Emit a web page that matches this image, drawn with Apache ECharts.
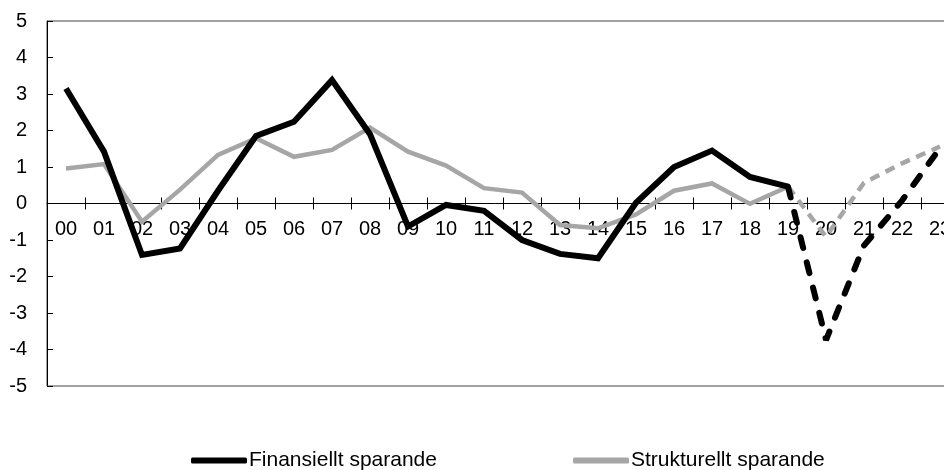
<!DOCTYPE html>
<html>
<head>
<meta charset="utf-8">
<script src="https://cdn.jsdelivr.net/npm/echarts@6/dist/echarts.min.js"></script>
<style>
  html, body { margin: 0; padding: 0; background: #fff; }
  #chart { width: 944px; height: 470px; }
</style>
</head>
<body>
<div id="chart"></div>
<script>
// år (x-axelns etiketter)
const years = ['00', '01', '02', '03', '04', '05', '06', '07', '08', '09', '10', '11',
  '12', '13', '14', '15', '16', '17', '18', '19', '20', '21', '22', '23']

// procent av BNP
const finansiellt = [3.15, 1.42, -1.41, -1.23, 0.35, 1.85, 2.24, 3.38, 1.9, -0.63, -0.04, -0.2,
  -1.0, -1.38, -1.5, 0.02, 1.0, 1.45, 0.73, 0.46, -3.74, -1.15, 0.08, 1.52]
const strukturellt = [0.96, 1.08, -0.5, 0.38, 1.33, 1.79, 1.28, 1.47, 2.08, 1.42, 1.04, 0.42,
  0.3, -0.59, -0.68, -0.3, 0.35, 0.55, -0.01, 0.46, -0.91, 0.57, 1.1, 1.56]

// prognos från och med detta index (streckad linje)
const forecastFrom = 19

const yTicks = { min: -5, max: 5, interval: 1 }

const FONT = 'Liberation Sans, Arial, sans-serif'

const outcome = arr => arr.map((v, i) => (i <= forecastFrom ? v : '-'))
const forecast = arr => arr.map((v, i) => (i >= forecastFrom ? v : '-'))

const chart = echarts.init(document.getElementById('chart'))

// diagramrutan; högerkanten ligger utanför bilden som i originalet
const plot = { left: 47, top: 21, width: 912, height: 365 }
// övre halvan, slutar vid nollinjen: bär etiketterna och tickmarkeringarna uppåt
const upper = { left: 47, top: 21, width: 912, height: 182.5 }

const legendItem = (name, left) => ({
  data: [name],
  left: left,
  top: 450,
  padding: 0,
  icon: 'roundRect',
  itemWidth: 56,
  itemHeight: 6,
  textStyle: { fontFamily: FONT, fontSize: 21, color: '#000', padding: [0, 0, 0, -3] }
})

const option = {
  backgroundColor: '#fff',
  animation: false,
  grid: [
    { ...plot, outerBoundsMode: 'none', show: true, borderColor: '#444', borderWidth: 1 },
    { ...upper, outerBoundsMode: 'none' }
  ],
  legend: [
    legendItem('Finansiellt sparande', 191),
    legendItem('Strukturellt sparande', 573)
  ],
  xAxis: [
    {
      type: 'category',
      gridIndex: 0,
      data: years,
      boundaryGap: true,
      axisLine: { onZero: true, lineStyle: { color: '#000', width: 1 } },
      axisTick: { show: true, length: 6, lineStyle: { color: '#000' } },
      axisLabel: { show: false },
      splitLine: { show: false }
    },
    {
      type: 'category',
      gridIndex: 1,
      data: years,
      boundaryGap: true,
      position: 'bottom',
      axisLine: { onZero: false, show: false },
      axisTick: { show: true, inside: true, length: 6, lineStyle: { color: '#000' } },
      axisLabel: { fontFamily: FONT, fontSize: 20, color: '#000', margin: 16 },
      splitLine: { show: false }
    }
  ],
  yAxis: [
    {
      type: 'value',
      gridIndex: 0,
      min: yTicks.min,
      max: yTicks.max,
      interval: yTicks.interval,
      axisLine: { show: true, lineStyle: { color: '#000', width: 1 } },
      axisTick: { show: true, inside: true, length: 6, lineStyle: { color: '#000' } },
      axisLabel: { fontFamily: FONT, fontSize: 20, color: '#000', margin: 20 },
      splitLine: { show: false }
    },
    {
      type: 'value',
      gridIndex: 1,
      min: 0,
      max: yTicks.max,
      interval: yTicks.interval,
      show: false
    }
  ],
  series: [
    {
      name: 'Strukturellt sparande',
      type: 'line',
      data: outcome(strukturellt),
      symbol: 'none',
      itemStyle: { color: '#a6a6a6' },
      lineStyle: { color: '#a6a6a6', width: 4.5, join: 'miter' }
    },
    {
      name: 'Strukturellt prognos',
      type: 'line',
      data: forecast(strukturellt),
      symbol: 'none',
      itemStyle: { color: '#a6a6a6' },
      lineStyle: { color: '#a6a6a6', width: 4.5, type: [10, 7] }
    },
    {
      name: 'Finansiellt sparande',
      type: 'line',
      data: outcome(finansiellt),
      symbol: 'none',
      itemStyle: { color: '#000' },
      lineStyle: { color: '#000', width: 6, join: 'miter' }
    },
    {
      name: 'Finansiellt prognos',
      type: 'line',
      data: forecast(finansiellt),
      symbol: 'none',
      itemStyle: { color: '#000' },
      lineStyle: { color: '#000', width: 6, type: [11, 15], cap: 'round' }
    }
  ]
}

chart.setOption(option)
</script>
</body>
</html>
